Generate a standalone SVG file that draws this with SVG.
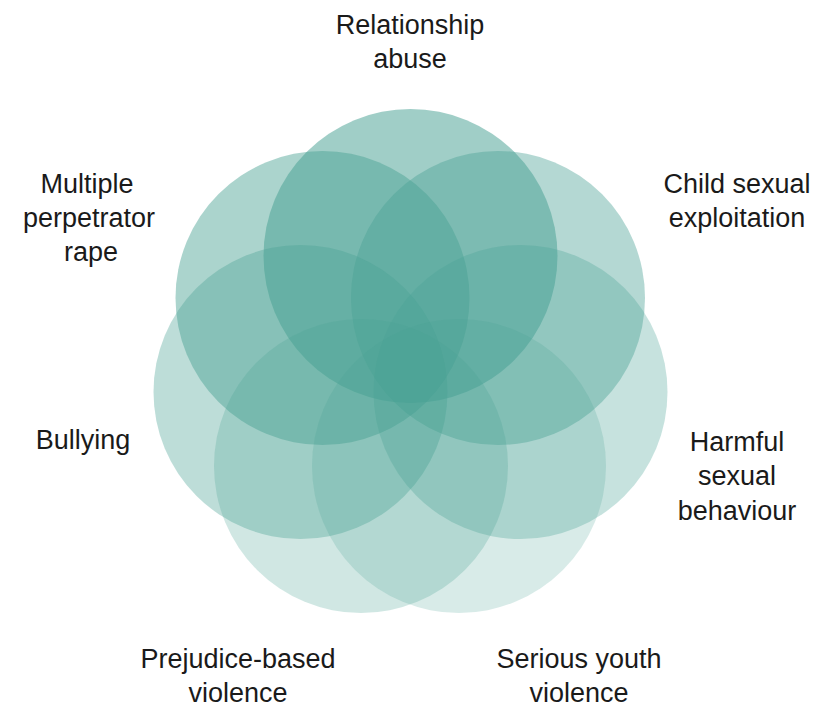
<svg xmlns="http://www.w3.org/2000/svg" width="819" height="720" viewBox="0 0 819 720">
<style>
.c{fill:#48a193}
.t{font-family:"Liberation Sans",Arial,sans-serif;font-size:27px;fill:#1a1a1a;text-anchor:middle}
</style>
<rect width="819" height="720" fill="#ffffff"/>
<g id="circles">
<g id="n-relationship"><circle class="c" cx="410.5" cy="256" r="147" fill-opacity="0.52"/></g>
<g id="n-multiple"><circle class="c" cx="322.5" cy="298" r="147" fill-opacity="0.46"/></g>
<g id="n-child"><circle class="c" cx="498" cy="298" r="147" fill-opacity="0.41"/></g>
<g id="n-bullying"><circle class="c" cx="300.5" cy="392" r="147" fill-opacity="0.36"/></g>
<g id="n-harmful"><circle class="c" cx="520.5" cy="392" r="147" fill-opacity="0.31"/></g>
<g id="n-prejudice"><circle class="c" cx="361" cy="466" r="147" fill-opacity="0.26"/></g>
<g id="n-serious"><circle class="c" cx="459" cy="466" r="147" fill-opacity="0.21"/></g>
</g>
<g id="connectors"></g>
<g id="labels">
<text class="t" x="410" y="34">Relationship<tspan x="410" y="68">abuse</tspan></text>
<text class="t" x="87" y="193">Multiple<tspan x="89" y="227">perpetrator</tspan><tspan x="91" y="261">rape</tspan></text>
<text class="t" x="737" y="193">Child sexual<tspan x="737" y="227">exploitation</tspan></text>
<text class="t" x="83" y="449">Bullying</text>
<text class="t" x="737" y="451">Harmful<tspan x="737" y="485">sexual</tspan><tspan x="737" y="520">behaviour</tspan></text>
<text class="t" x="238" y="668">Prejudice-based<tspan x="238" y="702">violence</tspan></text>
<text class="t" x="579" y="668">Serious youth<tspan x="579" y="702">violence</tspan></text>
</g>
</svg>
